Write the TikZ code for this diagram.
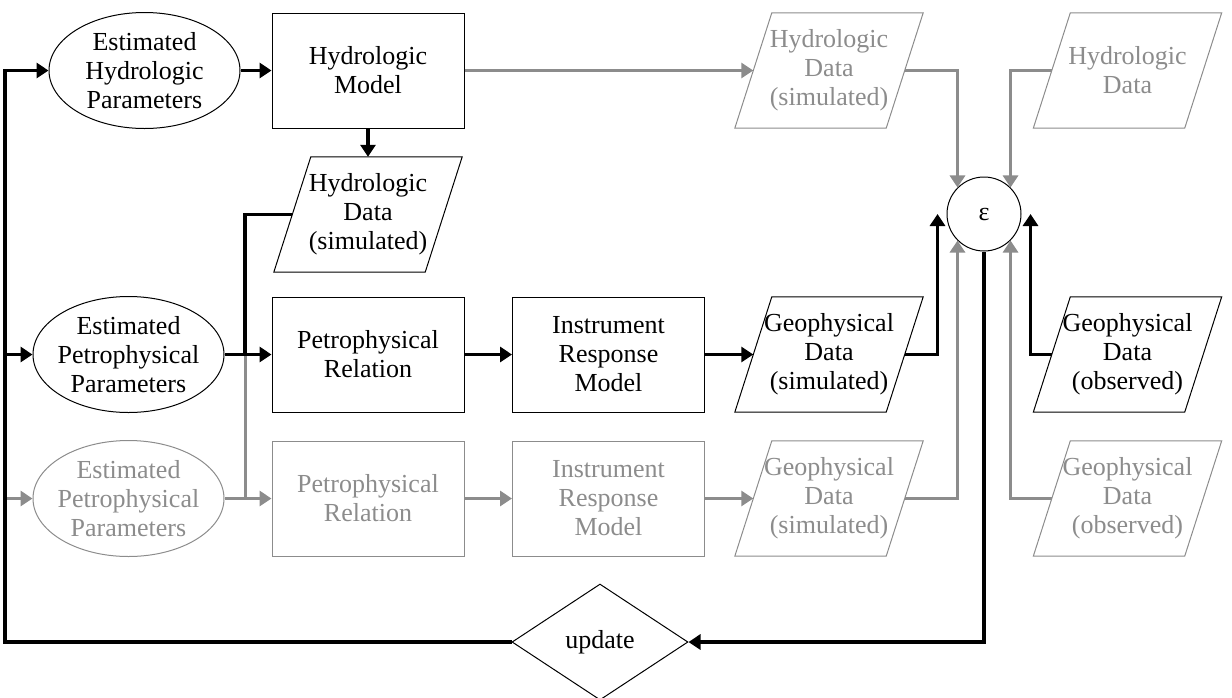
\documentclass[tikz,border=0pt]{standalone}
\usepackage{fontspec}
\setmainfont{Liberation Serif}
\usetikzlibrary{shapes.geometric,arrows.meta,calc}
\definecolor{fadedc}{RGB}{140,140,140}

\begin{document}
\begin{tikzpicture}[x=1pt, y=-1pt, >={Triangle[length=12pt,width=15pt]},
  font=\fontsize{26}{29}\selectfont,
  proc/.style={draw, line width=1pt, rectangle, minimum width=192pt, minimum height=115pt, inner sep=0pt, align=center},
  param/.style={draw, line width=1pt, ellipse, minimum width=191pt, minimum height=116pt, inner xsep=-8pt, inner ysep=-3pt, align=center},
  dat/.style={rectangle, minimum width=151pt, minimum height=115pt, inner sep=0pt, align=center,
    append after command={\pgfextra{\draw[line width=1pt, draw=#1]
      ($(\tikzlastnode.south west)+(-18.5,0)$) -- ($(\tikzlastnode.south east)+(-18.5,0)$) --
      ($(\tikzlastnode.north east)+(18.5,0)$) -- ($(\tikzlastnode.north west)+(18.5,0)$) -- cycle;}}},
  dat/.default=black,
  faded/.style={draw=fadedc, text=fadedc},
  link/.style={line width=3.2pt},
  glink/.style={line width=3pt, draw=fadedc},
]
  \useasboundingbox (0,0) rectangle (1232,697);

  % hydrologic branch
  \node[param] (hpar) at (144.5,70.5) {Estimated\\Hydrologic\\Parameters};
  \node[proc] (hmod) at (368,70.5) {Hydrologic\\Model};
  \node[dat] (hsim) at (368,214.5) {Hydrologic\\Data\\(simulated)};
  \node[dat=fadedc, text=fadedc] (hsimg) at (829,70.5) {Hydrologic\\Data\\(simulated)};
  \node[dat=fadedc, text=fadedc] (hobs) at (1127.5,70.5) {Hydrologic\\Data};

  % objective function
  \node[draw, line width=1pt, circle, minimum size=74pt, inner sep=0pt] (eps) at (984,214) {ε};
  \coordinate (epsl) at ($(eps.west)+(-9,0)$);
  \coordinate (epsr) at ($(eps.east)+(9,0)$);

  % petrophysical branch
  \node[param] (ppar) at (128.5,354.5) {Estimated\\Petrophysical\\Parameters};
  \node[proc] (prel) at (368,354.5) {Petrophysical\\Relation};
  \node[proc] (irm) at (608.5,354.5) {Instrument\\Response\\Model};
  \node[dat] (gsim) at (829,354.5) {Geophysical\\Data\\(simulated)};
  \node[dat] (gobs) at (1127.5,354.5) {Geophysical\\Data\\(observed)};

  % second (faded) petrophysical branch
  \node[param, faded] (pparg) at (128.5,498.5) {Estimated\\Petrophysical\\Parameters};
  \node[proc, faded] (prelg) at (368,498.5) {Petrophysical\\Relation};
  \node[proc, faded] (irmg) at (608.5,498.5) {Instrument\\Response\\Model};
  \node[dat=fadedc, text=fadedc] (gsimg) at (829,498.5) {Geophysical\\Data\\(simulated)};
  \node[dat=fadedc, text=fadedc] (gobsg) at (1127.5,498.5) {Geophysical\\Data\\(observed)};

  \node[draw, line width=1pt, diamond, aspect=1.5, minimum width=176pt, minimum height=116pt, inner sep=0pt] (upd) at (600,642) {update};

  \coordinate (fb) at (5,0);
  \coordinate (jb) at (245,0);

  % faded links
  \draw[glink,->] (hmod.east) -- (hsimg.west);
  \draw[glink,->] (hsimg.east) -| (eps.135);
  \draw[glink,->] (hobs.west) -| (eps.45);
  \draw[glink,->] (fb |- pparg.west) -- (pparg.west);
  \draw[glink] (jb |- ppar.east) -- (jb |- pparg.east);
  \draw[glink,->] (pparg.east) -- (prelg.west);
  \draw[glink,->] (prelg.east) -- (irmg.west);
  \draw[glink,->] (irmg.east) -- (gsimg.west);
  \draw[glink,->] (gsimg.east) -| (eps.-135);
  \draw[glink,->] (gobsg.west) -| (eps.-45);

  % main links
  \draw[link,->] (hpar.east) -- (hmod.west);
  \draw[link,->] (hmod.south) -- (hsim.north);
  \draw[link] (hsim.west) -| (jb |- ppar.east);
  \draw[link,->] (ppar.east) -- (prel.west);
  \draw[link,->] (prel.east) -- (irm.west);
  \draw[link,->] (irm.east) -- (gsim.west);
  \draw[link,->] (gsim.east) -| (epsl);
  \draw[link,->] (gobs.west) -| (epsr);

  % update loop
  \draw[link,->] (eps.south) |- (upd.east);
  \draw[link,->] (upd.west) -| (fb |- hpar.west) -- (hpar.west);
  \draw[link,->] (fb |- ppar.west) -- (ppar.west);
\end{tikzpicture}
\end{document}
